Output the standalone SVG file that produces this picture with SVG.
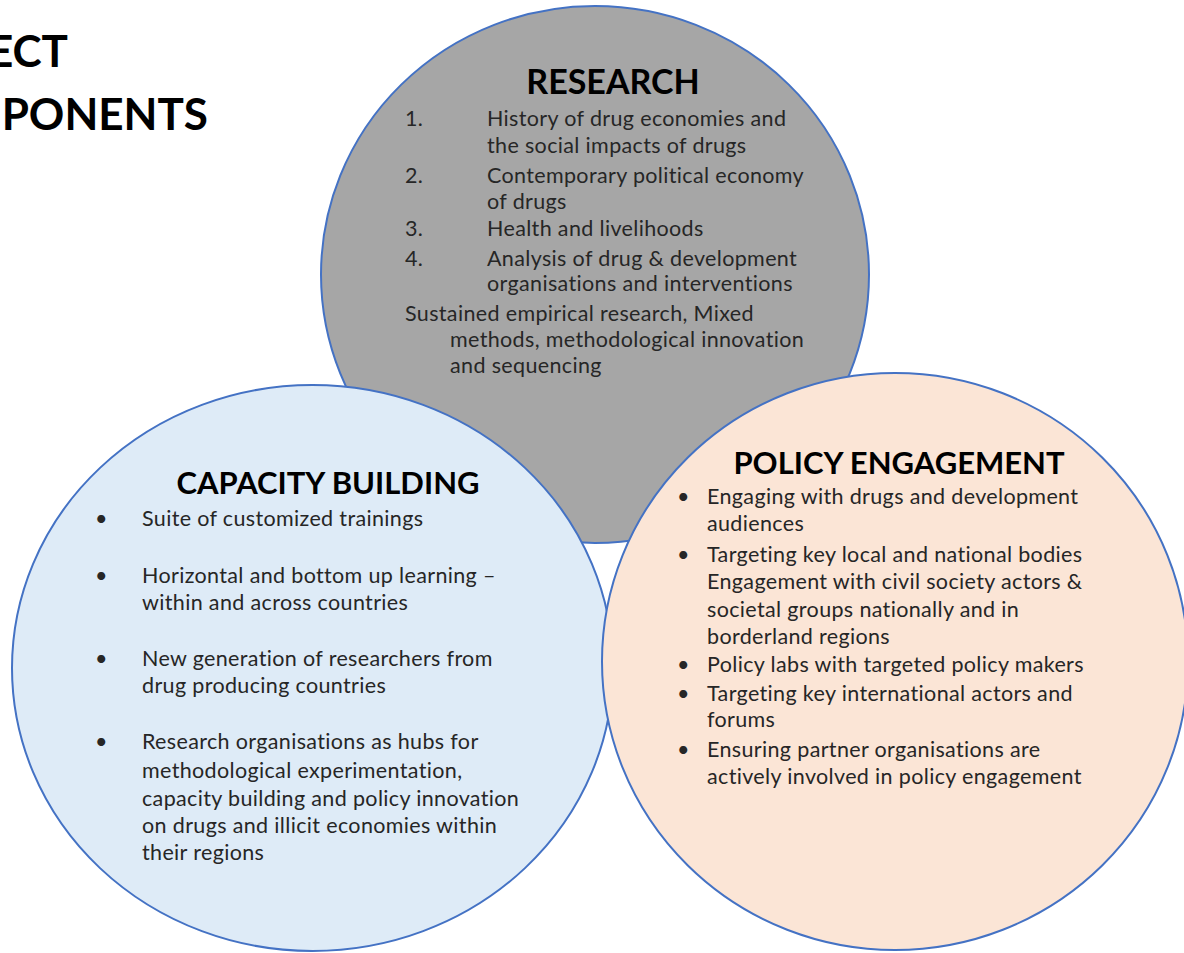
<svg xmlns="http://www.w3.org/2000/svg" width="1184" height="953" viewBox="0 0 1184 953">
<style>
.c{stroke:#4472C4;stroke-width:2}
.h{font-family:Lato,"Liberation Sans",sans-serif;font-weight:bold;font-size:31px;fill:#000;text-anchor:middle}
.t{font-family:Lato,"Liberation Sans",sans-serif;font-size:21.5px;letter-spacing:0.35px;fill:#262626}
.ttl{font-family:Lato,"Liberation Sans",sans-serif;font-weight:bold;font-size:44px;fill:#000;text-anchor:end}
</style>
<rect width="1184" height="953" fill="#fff"/>
<g id="title">
<text class="ttl" x="68" y="67">ECT</text>
<text class="ttl" x="208" y="130">PONENTS</text>
</g>
<g id="research">
<ellipse class="c" cx="595" cy="274.5" rx="274" ry="268.5" fill="#A6A6A6"/>
<text class="h" x="613" y="94" style="font-size:34px">RESEARCH</text>
<text class="t" x="405" y="126">1.</text><text class="t" x="487" y="126">History of drug economies and</text>
<text class="t" x="487" y="153">the social impacts of drugs</text>
<text class="t" x="405" y="183">2.</text><text class="t" x="487" y="183">Contemporary political economy</text>
<text class="t" x="487" y="209">of drugs</text>
<text class="t" x="405" y="236">3.</text><text class="t" x="487" y="236">Health and livelihoods</text>
<text class="t" x="405" y="266">4.</text><text class="t" x="487" y="266">Analysis of drug &amp; development</text>
<text class="t" x="487" y="291">organisations and interventions</text>
<text class="t" x="405" y="321">Sustained empirical research, Mixed</text>
<text class="t" x="450" y="347">methods, methodological innovation</text>
<text class="t" x="450" y="373">and sequencing</text>
</g>
<g id="capacity">
<ellipse class="c" cx="312.5" cy="668" rx="300.5" ry="283" fill="#DEEBF7"/>
<text class="h" x="328" y="494">CAPACITY BUILDING</text>
<text class="t" x="95" y="526">•</text><text class="t" x="142" y="526">Suite of customized trainings</text>
<text class="t" x="95" y="583">•</text><text class="t" x="142" y="583">Horizontal and bottom up learning –</text>
<text class="t" x="142" y="610">within and across countries</text>
<text class="t" x="95" y="666">•</text><text class="t" x="142" y="666">New generation of researchers from</text>
<text class="t" x="142" y="693">drug producing countries</text>
<text class="t" x="95" y="749">•</text><text class="t" x="142" y="749">Research organisations as hubs for</text>
<text class="t" x="142" y="778">methodological experimentation,</text>
<text class="t" x="142" y="806">capacity building and policy innovation</text>
<text class="t" x="142" y="833">on drugs and illicit economies within</text>
<text class="t" x="142" y="860">their regions</text>
</g>
<g id="policy">
<ellipse class="c" cx="895" cy="661.5" rx="293" ry="288.5" fill="#FBE5D6"/>
<text class="h" x="899" y="474">POLICY ENGAGEMENT</text>
<text class="t" x="677" y="504">•</text><text class="t" x="707" y="504">Engaging with drugs and development</text>
<text class="t" x="707" y="531">audiences</text>
<text class="t" x="677" y="562">•</text><text class="t" x="707" y="562">Targeting key local and national bodies</text>
<text class="t" x="707" y="589">Engagement with civil society actors &amp;</text>
<text class="t" x="707" y="617">societal groups nationally and in</text>
<text class="t" x="707" y="644">borderland regions</text>
<text class="t" x="677" y="672">•</text><text class="t" x="707" y="672">Policy labs with targeted policy makers</text>
<text class="t" x="677" y="701">•</text><text class="t" x="707" y="701">Targeting key international actors and</text>
<text class="t" x="707" y="727">forums</text>
<text class="t" x="677" y="757">•</text><text class="t" x="707" y="757">Ensuring partner organisations are</text>
<text class="t" x="707" y="784">actively involved in policy engagement</text>
</g>
<g id="connectors"/>
</svg>
